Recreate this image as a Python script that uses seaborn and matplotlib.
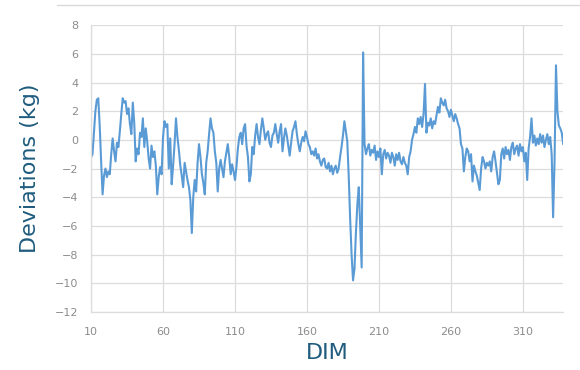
import numpy as np
import pandas as pd
import matplotlib
matplotlib.use('Agg')
import matplotlib.pyplot as plt
from matplotlib.lines import Line2D
import seaborn as sns

# deviations per day in milk (DIM 10..338)
dim_start = 10
deviations = [
    -1.2, -1.0, 0.5, 2.0, 2.8, 2.9, 1.0, -1.5, -3.8, -2.5,
    -2.0, -2.6, -2.2, -2.4, -1.0, 0.1, -0.8, -1.5, -0.2, -0.5,
    0.6, 1.8, 2.9, 2.6, 2.7, 1.8, 2.2, 1.1, 0.4, 2.6,
    1.2, -1.5, -0.6, -1.0, 0.5, 0.2, 1.5, -0.5, 0.8, -0.1,
    -1.3, -2.0, -0.4, -1.2, -0.8, -1.8, -3.8, -2.6, -1.9, -2.4,
    0.2, 1.3, 0.9, 1.1, -2.0, 0.1, -3.1, -1.8, -0.3, 1.5,
    0.2, -0.7, -1.8, -2.5, -3.3, -1.6, -2.2, -2.8, -3.3, -4.2,
    -6.5, -4.0, -2.8, -3.6, -1.6, -0.3, -1.2, -2.4, -3.0, -3.8,
    -1.6, -0.8, 0.4, 1.5, 0.8, 0.5, -0.8, -1.6, -3.6, -2.0,
    -1.4, -2.0, -2.6, -1.5, -0.9, -0.3, -1.2, -2.4, -1.7, -2.2,
    -2.8, -1.9, -0.6, 0.2, 0.5, -0.3, 0.8, 1.1, -0.4, -1.2,
    -2.9, -2.4, -0.5, -1.0, 0.3, 1.1, 0.2, -0.3, 0.7, 1.5,
    0.8, 0.0, 0.4, 0.6, -0.2, -0.5, 0.3, 0.5, 1.1, 0.4,
    -0.2, 0.6, 1.1, -0.8, 0.1, 0.8, 0.3, -0.4, -1.1, -0.2,
    0.6, 0.9, 1.3, 0.4, -0.3, -0.8, -0.2, 0.2, -0.1, 0.6,
    0.2, -0.3, -0.5, -1.0, -0.8, -1.1, -0.6, -1.3, -1.0, -1.5,
    -1.8, -1.4, -1.3, -1.9, -2.0, -1.6, -2.2, -1.8, -2.4, -2.0,
    -1.8, -2.3, -2.0, -1.2, -0.5, 0.3, 1.3, 0.6, -0.1, -2.5,
    -5.5, -8.0, -9.8, -9.0, -6.5, -4.5, -3.3, -6.0, -8.9, 6.1,
    -0.3, -1.0, -0.6, -0.3, -1.1, -0.7, -0.9, -0.4, -1.4, -0.8,
    -1.2, -0.6, -2.4, -1.0, -0.7, -1.3, -0.9, -1.1, -1.6, -0.9,
    -1.2, -1.8, -1.0, -1.4, -0.9, -1.5, -1.7, -1.2, -1.6, -1.8,
    -2.4, -1.2, -0.8, 0.0, 0.4, 0.9, 0.5, 1.5, 1.1, 1.6,
    0.9, 1.8, 3.9, 0.5, 1.2, 1.0, 1.5, 0.8, 1.3, 1.1,
    1.7, 2.3, 1.9, 2.9, 2.6, 2.4, 2.8, 2.2, 2.0, 1.6,
    2.1, 1.7, 1.3, 1.8, 1.5, 1.1, 0.8, -0.3, -0.6, -2.2,
    -1.2, -0.6, -0.8, -1.5, -1.0, -2.9, -1.8, -2.2, -2.5, -3.0,
    -3.5, -2.0, -1.2, -1.5, -2.0, -1.6, -1.8, -1.5, -2.2, -1.2,
    -0.8, -1.5, -2.3, -3.1, -2.8, -1.0, -0.6, -1.3, -0.5, -1.0,
    -0.7, -1.4, -0.5, -0.2, -1.0, -0.6, -0.4, -1.1, -0.3, -0.8,
    -0.5, -1.5, -0.9, -2.8, -0.6, 0.2, 1.5, -0.2, 0.3, -0.4,
    0.1, -0.3, 0.4, -0.2, 0.3, -0.5, 0.0, 0.4, -0.3, 0.2,
    -1.0, -5.4, -1.5, 5.2, 2.0, 1.0, 0.8, 0.5, -0.3,
]
dim = list(range(dim_start, dim_start + len(deviations)))
x_ticks = [10, 60, 110, 160, 210, 260, 310]
y_ticks = list(range(-12, 9, 2))

df = pd.DataFrame({'DIM': dim, 'dev': deviations})

sns.set_theme(style='white')
plt.rcParams['font.family'] = ['DejaVu Sans']

fig = plt.figure(figsize=(5.8, 3.7), dpi=100)
ax = fig.add_axes([0.157, 0.157, 0.814, 0.775])

sns.lineplot(data=df, x='DIM', y='dev', ax=ax, color='#5B9BD5', linewidth=1.5)

ax.set_xlim(dim[0], dim[-1])
ax.set_ylim(-12, 8)
ax.set_xticks(x_ticks)
ax.set_yticks(y_ticks)
ax.grid(True, color='#DCDCDC', linewidth=0.9)
for s in ['top', 'right']:
    ax.spines[s].set_visible(False)
for s in ['left', 'bottom']:
    ax.spines[s].set_color('#DCDCDC')
    ax.spines[s].set_linewidth(0.9)
ax.tick_params(axis='both', length=0, labelsize=8, labelcolor='#8C8C8C')
ax.tick_params(axis='y', pad=9)
ax.tick_params(axis='x', pad=11)

label_color = '#1F5C7E'
ax.set_xlabel('DIM', fontsize=16, color=label_color, labelpad=4)
ax.set_ylabel('Deviations (kg)', fontsize=16, color=label_color, labelpad=11)

# thin frame line along the top like the original chart box
fig.add_artist(Line2D([0.098, 1.0], [0.986, 0.986], color='#D9D9D9', linewidth=1.0,
                      transform=fig.transFigure))

fig.savefig('out.png', dpi=100)
